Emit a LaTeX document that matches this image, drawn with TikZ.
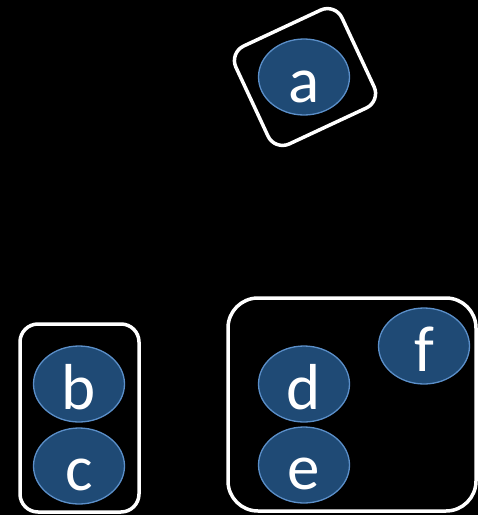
\documentclass[tikz,border=0pt]{standalone}
\usepackage{fontspec}
\setmainfont{Carlito}
\usetikzlibrary{shapes.geometric}
\definecolor{blobfill}{HTML}{1F4A75}
\definecolor{blobedge}{HTML}{5B8FC9}
\tikzset{
  blob/.style={ellipse, draw=blobedge, line width=1.3pt, fill=blobfill,
    minimum width=91pt, minimum height=76pt, inner sep=0pt},
  lbl/.style={text=white, font=\fontsize{65}{65}\selectfont, anchor=base},
  frame/.style={draw=white, line width=3.5pt}
}
\begin{document}
\begin{tikzpicture}[x=1pt,y=-1pt]
  \fill[black] (0,0) rectangle (478,515);
  \useasboundingbox (0,0) rectangle (478,515);

  % tilted frame around a
  \node[frame, rounded corners=16pt, minimum width=117pt, minimum height=108pt,
        rotate=25] (fa) at (305,77) {};
  % frames around the groups
  \draw[frame, rounded corners=18pt] (20,324) rectangle (139,512);
  \draw[frame, rounded corners=30pt] (228,298) rectangle (476,511);

  % ellipses
  \node[blob] (a) at (304,77) {};
  \node[blob] (b) at (79,384) {};
  \node[blob] (c) at (79,466) {};
  \node[blob] (d) at (304,384) {};
  \node[blob] (e) at (304,465) {};
  \node[blob] (f) at (424,346) {};

  % letters
  \node[lbl] at ([yshift=-25pt]a.center) {a};
  \node[lbl] at ([yshift=-25pt]b.center) {b};
  \node[lbl] at ([yshift=-24pt]c.center) {c};
  \node[lbl] at ([yshift=-25pt]d.center) {d};
  \node[lbl] at ([yshift=-24pt]e.center) {e};
  \node[lbl] at ([yshift=-25pt]f.center) {f};
\end{tikzpicture}
\end{document}
